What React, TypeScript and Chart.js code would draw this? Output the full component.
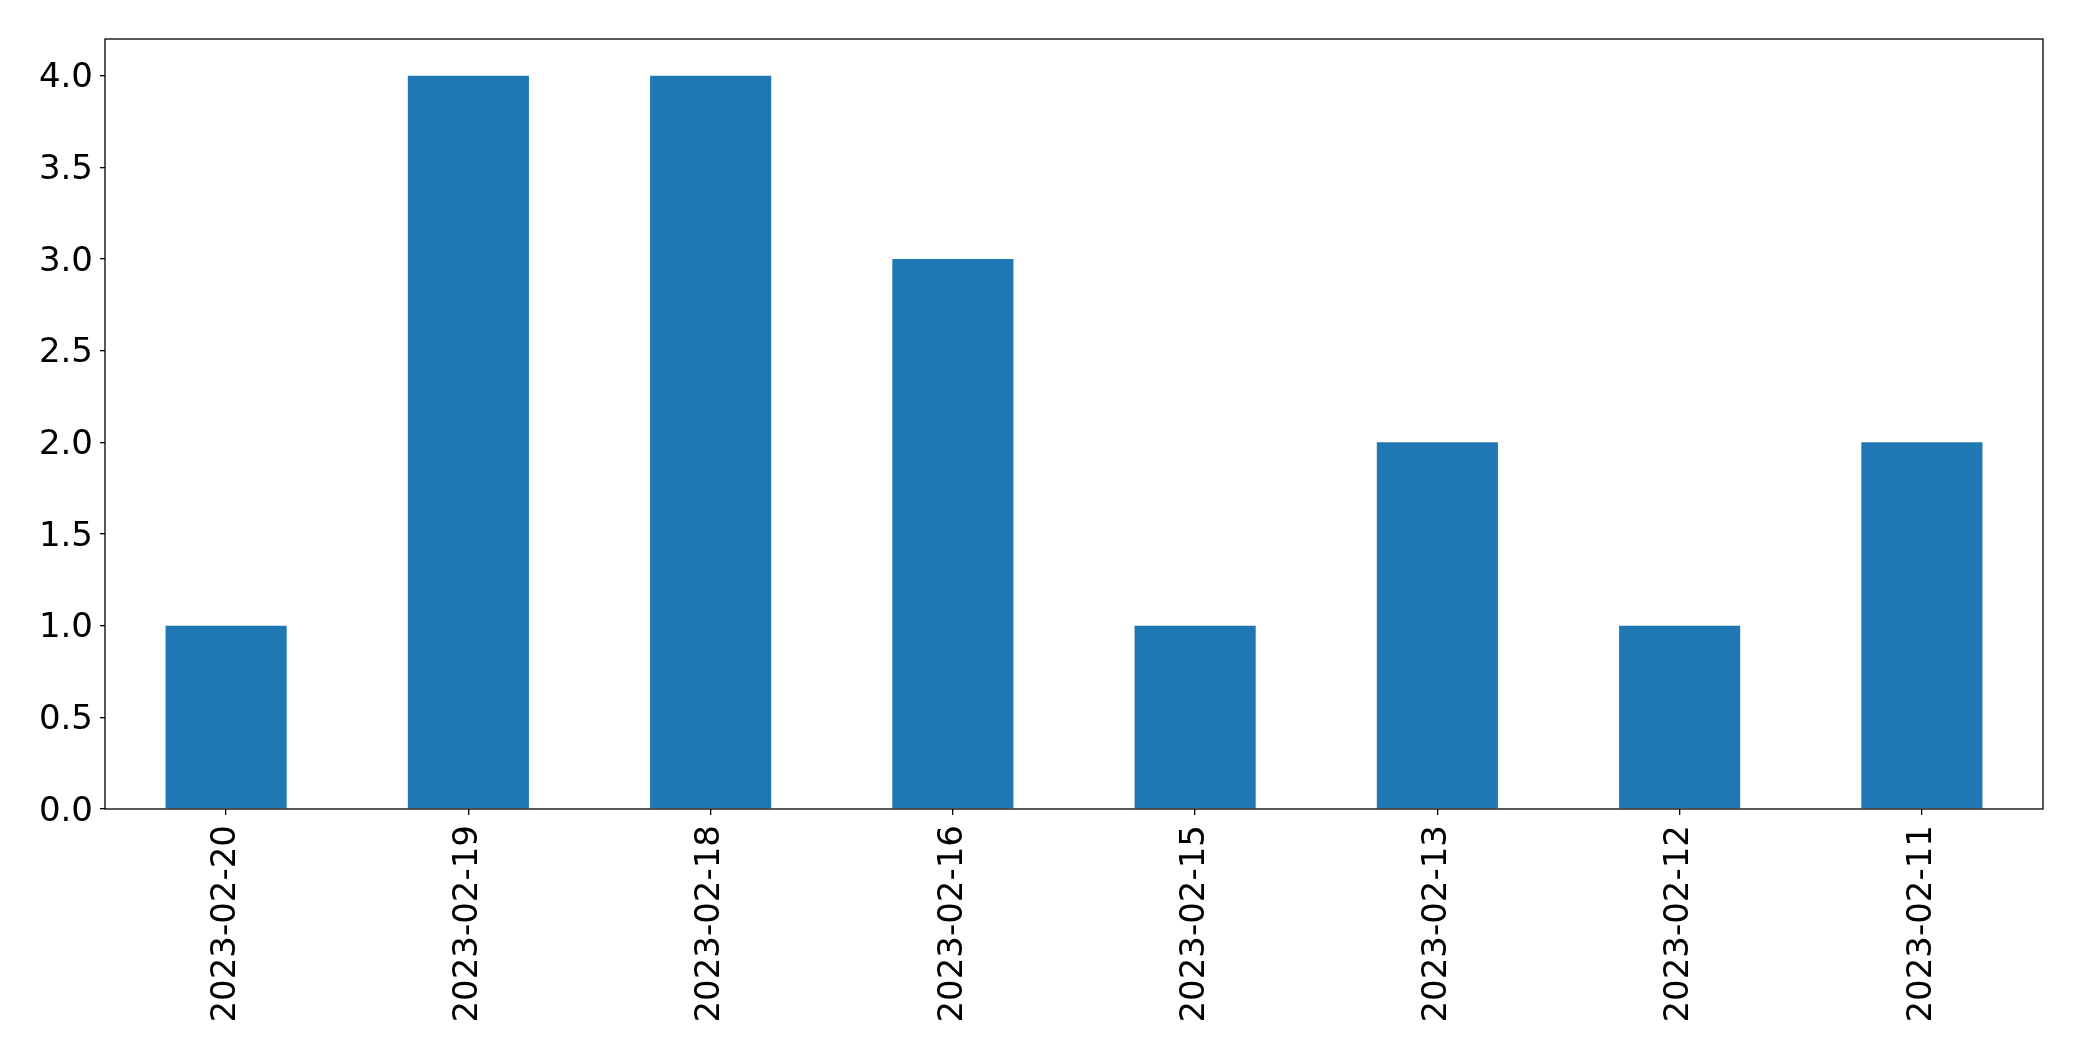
import React, { useEffect, useRef } from "react";
import { Chart, registerables } from "chart.js";

Chart.register(...registerables);

const categories = [
  "2023-02-20",
  "2023-02-19",
  "2023-02-18",
  "2023-02-16",
  "2023-02-15",
  "2023-02-13",
  "2023-02-12",
  "2023-02-11",
];
const counts = [1, 4, 4, 3, 1, 2, 1, 2];
const yTicks = [0, 0.5, 1, 1.5, 2, 2.5, 3, 3.5, 4];
const yMax = 4.2;

const frame = {
  id: "frame",
  afterDraw(chart: any) {
    const { ctx, chartArea } = chart;
    ctx.save();
    ctx.strokeStyle = "#000";
    ctx.lineWidth = 1.3;
    ctx.strokeRect(chartArea.left, chartArea.top, chartArea.right - chartArea.left, chartArea.bottom - chartArea.top);
    ctx.restore();
  },
};

export default function App() {
  const ref = useRef<HTMLCanvasElement | null>(null);
  useEffect(() => {
    if (!ref.current) return;
    const font = { family: "'DejaVu Sans', sans-serif", size: 34 };
    const chart = new Chart(ref.current, {
      type: "bar",
      data: {
        labels: categories,
        datasets: [
          {
            data: counts,
            backgroundColor: "#1f77b4",
            categoryPercentage: 1,
            barPercentage: 0.5,
          },
        ],
      },
      options: {
        animation: false,
        responsive: false,
        maintainAspectRatio: false,
        layout: { padding: { top: 39, right: 39, left: 0, bottom: 0 } },
        plugins: { legend: { display: false }, tooltip: { enabled: false } },
        scales: {
          x: {
            grid: { display: true, offset: false, drawOnChartArea: false, drawTicks: true, tickLength: 6, color: "#000", lineWidth: 1.3 },
            border: { display: false },
            ticks: { color: "#000", font, minRotation: 90, maxRotation: 90, padding: 10, autoSkip: false },
            afterFit(scale: any) {
              scale.height = 252;
            },
          },
          y: {
            min: 0,
            max: yMax,
            grid: { display: true, drawOnChartArea: false, drawTicks: true, tickLength: 5, color: "#000", lineWidth: 1.3 },
            border: { display: false },
            ticks: {
              color: "#000",
              font,
              padding: 7,
              labelOffset: 3,
              callback: (v: any) => Number(v).toFixed(1),
            },
            afterBuildTicks(scale: any) {
              scale.ticks = yTicks.map((v) => ({ value: v }));
            },
            afterFit(scale: any) {
              scale.width = 105;
            },
          },
        },
      },
      plugins: [frame],
    });
    return () => chart.destroy();
  }, []);
  return (
    <div style={{ position: "absolute", left: 0, top: 0, width: 2082, height: 1061, background: "#fff" }}>
      <canvas ref={ref} width={2082} height={1061} style={{ width: 2082, height: 1061 }} />
    </div>
  );
}
